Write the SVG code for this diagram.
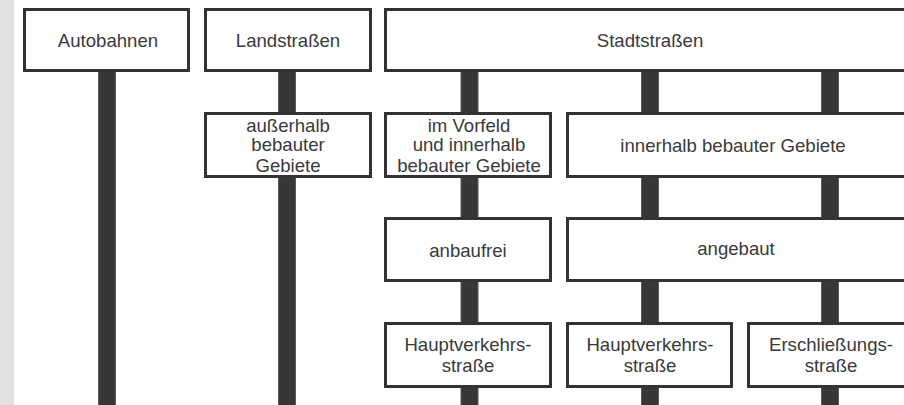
<svg xmlns="http://www.w3.org/2000/svg" width="904" height="405" viewBox="0 0 904 405">
<style>
.box{fill:#fff;stroke:#333;stroke-width:3}
.bar{fill:#363739;stroke:#5a5a5a;stroke-width:1}
text{font-family:"Liberation Sans",Arial,sans-serif;font-size:18.6px;fill:#3a3a3a;text-anchor:middle}
</style>
<rect x="0" y="0" width="904" height="405" fill="#fff"/>
<rect x="0" y="0" width="14" height="405" fill="#e1e1e1"/>
<g id="connectors">
<rect class="bar" x="98.5" y="70" width="17" height="340"/>
<rect class="bar" x="278.5" y="70" width="17" height="340"/>
<rect class="bar" x="461" y="70" width="17" height="340"/>
<rect class="bar" x="641.5" y="70" width="17" height="340"/>
<rect class="bar" x="821.5" y="70" width="17" height="340"/>
</g>
<g id="autobahnen"><rect class="box" x="24.5" y="9.5" width="164" height="61"/><text x="108" y="46.5">Autobahnen</text></g>
<g id="landstrassen"><rect class="box" x="205.5" y="9.5" width="165" height="61"/><text x="288" y="46.5">Landstraßen</text></g>
<g id="stadtstrassen"><rect class="box" x="385.5" y="9.5" width="525" height="61"/><text x="650" y="46.5">Stadtstraßen</text></g>
<g id="ausserhalb"><rect class="box" x="205.5" y="113.5" width="165" height="63"/><text x="288" y="131.5">außerhalb</text><text x="288" y="151">bebauter</text><text x="288" y="171.5">Gebiete</text></g>
<g id="vorfeld"><rect class="box" x="385.5" y="113.5" width="165" height="63"/><text x="469" y="131.5">im Vorfeld</text><text x="469" y="151">und innerhalb</text><text x="469" y="171.5">bebauter Gebiete</text></g>
<g id="innerhalb"><rect class="box" x="567.5" y="113.5" width="343" height="63"/><text x="733" y="151.5">innerhalb bebauter Gebiete</text></g>
<g id="anbaufrei"><rect class="box" x="385.5" y="218.5" width="165" height="62"/><text x="468" y="256.5">anbaufrei</text></g>
<g id="angebaut"><rect class="box" x="567.5" y="218.5" width="343" height="62"/><text x="736" y="255">angebaut</text></g>
<g id="hvs1"><rect class="box" x="385.5" y="323.5" width="165" height="63"/><text x="468" y="351">Hauptverkehrs-</text><text x="468" y="371.5">straße</text></g>
<g id="hvs2"><rect class="box" x="567.5" y="323.5" width="164" height="63"/><text x="650" y="351">Hauptverkehrs-</text><text x="650" y="371.5">straße</text></g>
<g id="erschliessung"><rect class="box" x="748.5" y="323.5" width="165" height="63"/><text x="831" y="351">Erschließungs-</text><text x="831" y="371.5">straße</text></g>
</svg>
